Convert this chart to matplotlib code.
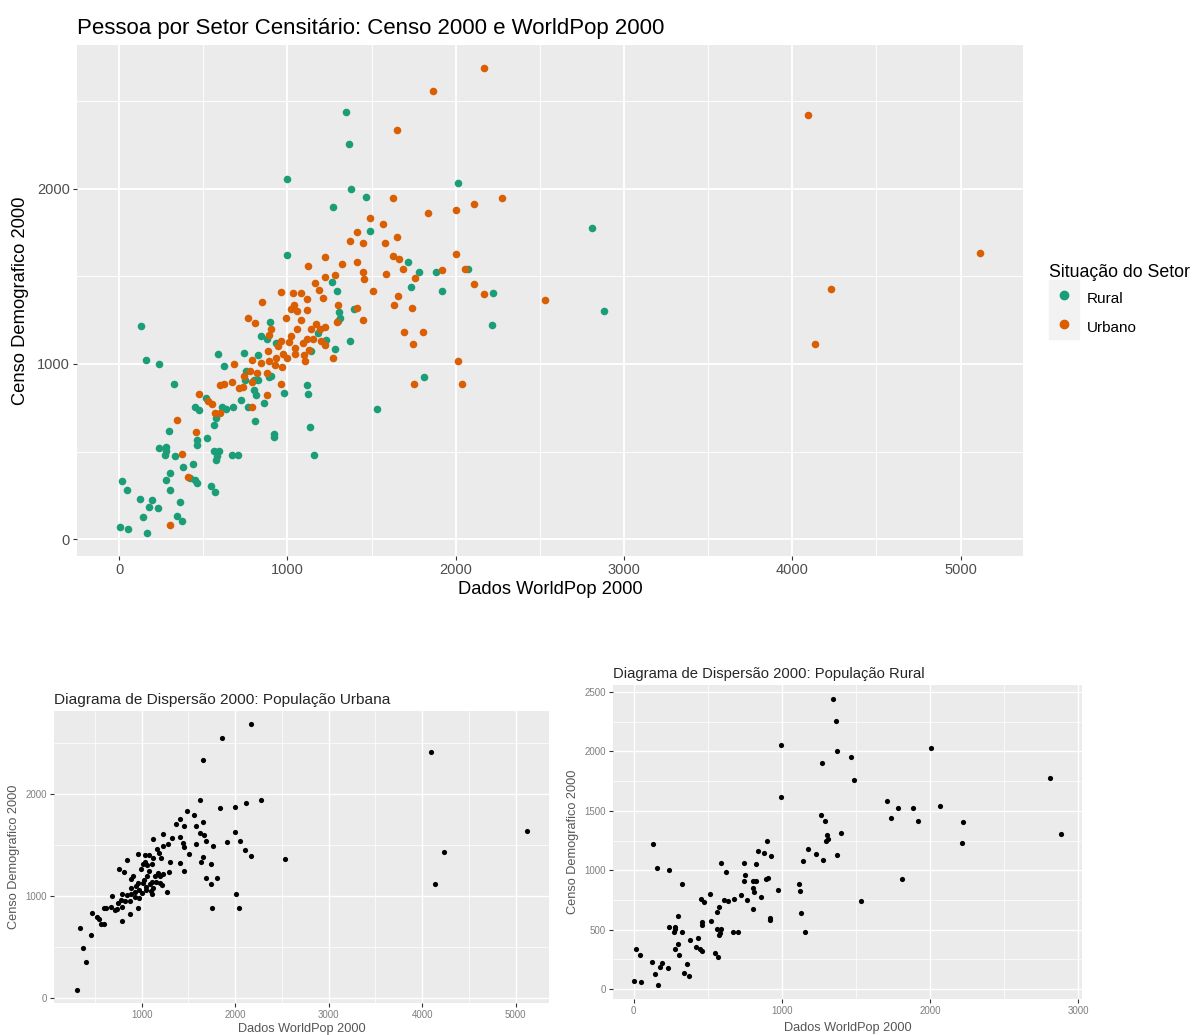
import numpy as np
import matplotlib
matplotlib.use("Agg")
import matplotlib.pyplot as plt
from matplotlib.ticker import MultipleLocator
from matplotlib.lines import Line2D

plt.rcParams["font.family"] = ["Liberation Sans", "DejaVu Sans"]

# setores rurais: (WorldPop 2000, Censo 2000)
rural_x = [1346, 1365, 997, 1376, 1469, 1270, 2011, 1490, 2812, 997,
           1714, 1736, 1782, 1883, 1921, 2071, 2221, 2215, 2883, 1264,
           1292, 1305, 1311, 1300, 1398, 1371, 1180, 1229, 1281, 1142,
           1812, 1534, 1114, 1125, 1131, 1158, 131, 161, 237, 324,
           16, 46, 5, 52, 125, 142, 163, 180, 193, 232,
           237, 281, 281, 275, 297, 300, 281, 305, 330, 341,
           360, 371, 379, 422, 436, 450, 463, 452, 474, 463,
           463, 518, 520, 548, 567, 561, 578, 564, 591, 575,
           583, 589, 624, 610, 635, 668, 706, 678, 725, 744,
           755, 747, 766, 804, 804, 812, 809, 823, 826, 842,
           877, 861, 891, 905, 899, 929, 918, 978, 922]
rural_y = [2439, 2255, 2056, 2000, 1952, 1899, 2031, 1762, 1779, 1620,
           1580, 1438, 1527, 1527, 1415, 1541, 1407, 1225, 1303, 1466,
           1415, 1298, 1264, 1245, 1312, 1130, 1178, 1138, 1088, 1074,
           926, 741, 881, 828, 641, 481, 1217, 1021, 1001, 884,
           333, 283, 70, 59, 229, 126, 36, 182, 221, 179,
           520, 523, 501, 481, 618, 378, 336, 283, 476, 131,
           210, 106, 411, 350, 431, 338, 319, 755, 736, 565,
           540, 803, 576, 305, 271, 649, 691, 501, 501, 453,
           473, 1057, 987, 752, 741, 481, 481, 755, 792, 1063,
           962, 909, 752, 909, 853, 820, 677, 1049, 906, 1161,
           1141, 775, 926, 931, 1242, 1122, 599, 836, 585]

# setores urbanos
urban_x = [2170, 1862, 1652, 4095, 1628, 2273, 1834, 2000, 2111, 1490,
           1565, 1415, 1652, 1451, 1372, 1577, 2000, 5115, 1628, 1225,
           1411, 1664, 1684, 1917, 2055, 1123, 1324, 1585, 1447, 1759,
           1455, 1281, 1225, 1166, 2107, 4229, 2170, 2530, 1506, 1300,
           1632, 1411, 1656, 1739, 1292, 1451, 1692, 1806, 1747, 4134,
           1751, 2012, 2040, 1273, 846, 964, 1032, 1083, 1040, 1119,
           1020, 1059, 1115, 1209, 1190, 763, 810, 905, 889, 992,
           1059, 1079, 964, 1142, 1170, 1194, 1225, 1115, 1154, 1198,
           1221, 1095, 1043, 1126, 1099, 1043, 972, 1000, 889, 933,
           842, 791, 684, 775, 743, 818, 881, 925, 968, 1107,
           668, 735, 711, 787, 877, 960, 601, 621, 474, 549,
           569, 601, 791, 526, 344, 458, 372, 407, 304, 1012,
           945, 1024, 885]
urban_y = [2689, 2557, 2334, 2420, 1948, 1948, 1862, 1879, 1911, 1836,
           1800, 1754, 1725, 1689, 1705, 1689, 1626, 1636, 1616, 1613,
           1584, 1600, 1544, 1534, 1541, 1561, 1570, 1515, 1525, 1492,
           1485, 1508, 1495, 1462, 1456, 1430, 1397, 1367, 1416, 1334,
           1338, 1321, 1387, 1318, 1239, 1249, 1180, 1180, 1115, 1115,
           885, 1016, 885, 1036, 1354, 1410, 1403, 1403, 1338, 1370,
           1315, 1305, 1311, 1377, 1420, 1262, 1233, 1200, 1167, 1262,
           1200, 1250, 1131, 1200, 1230, 1200, 1213, 1141, 1141, 1131,
           1108, 1118, 1092, 1079, 1052, 1059, 1059, 1033, 1016, 1036,
           1007, 1020, 1000, 961, 934, 951, 948, 993, 984, 1016,
           895, 869, 862, 895, 823, 885, 879, 885, 830, 774,
           721, 721, 754, 790, 682, 613, 485, 354, 79, 1125,
           1102, 1157, 1075]

groups = ["Rural", "Urbano"]
colors = ["#1B9E77", "#D95F02"]


def expand(vals, mult=0.05):
    lo, hi = min(vals), max(vals)
    pad = (hi - lo) * mult
    return lo - pad, hi + pad


def gg_style(ax, xstep, ystep, tick_size, tick_color="#4D4D4D", major_lw=1.3):
    ax.set_facecolor("#EBEBEB")
    for s in ax.spines.values():
        s.set_visible(False)
    ax.xaxis.set_major_locator(MultipleLocator(xstep))
    ax.xaxis.set_minor_locator(MultipleLocator(xstep / 2))
    ax.yaxis.set_major_locator(MultipleLocator(ystep))
    ax.yaxis.set_minor_locator(MultipleLocator(ystep / 2))
    ax.grid(which="major", color="white", linewidth=major_lw)
    ax.grid(which="minor", color="white", linewidth=major_lw / 2)
    ax.set_axisbelow(True)
    ax.tick_params(which="major", length=3, color="#333333", labelcolor=tick_color,
                   labelsize=tick_size, pad=2)
    ax.tick_params(which="minor", length=0)


fig = plt.figure(figsize=(11.95, 10.35), dpi=100)

# grafico principal
ax = fig.add_axes([77 / 1195, 1 - 556 / 1035, 946 / 1195, 511 / 1035])
gg_style(ax, 1000, 1000, 10.5)
ax.scatter(rural_x, rural_y, s=30, color=colors[0], linewidths=0, zorder=3)
ax.scatter(urban_x, urban_y, s=30, color=colors[1], linewidths=0, zorder=3)
ax.set_xlim(*expand(rural_x + urban_x))
ax.set_ylim(*expand(rural_y + urban_y))
ax.set_title("Pessoa por Setor Censitário: Censo 2000 e WorldPop 2000",
             loc="left", fontsize=16, pad=8, color="black")
ax.set_xlabel("Dados WorldPop 2000", fontsize=13.2, labelpad=3)
ax.set_ylabel("Censo Demografico 2000", fontsize=13.2, labelpad=6)

handles = [(Line2D([], [], marker="s", ms=21.5, color="#F2F2F2", linestyle="none"),
            Line2D([], [], marker="o", ms=6, color=c, linestyle="none")) for c in colors]
leg = ax.legend(handles, groups, title="Situação do Setor", loc="upper left",
                bbox_to_anchor=(1043 / 1195, 1 - 258 / 1035), bbox_transform=fig.transFigure,
                frameon=False, fontsize=11, title_fontsize=12.8, handlelength=1.9,
                handleheight=1.9, labelspacing=0.4, handletextpad=0.55,
                borderaxespad=0, alignment="left")

# dispersao urbana
axu = fig.add_axes([54 / 1195, 1 - 1003 / 1035, 495 / 1195, 292 / 1035])
gg_style(axu, 1000, 1000, 7, tick_color="#7F7F7F", major_lw=1.0)
axu.scatter(urban_x, urban_y, s=14, color="black", linewidths=0, zorder=3)
axu.set_xlim(*expand(urban_x))
axu.set_ylim(*expand(urban_y))
axu.set_title("Diagrama de Dispersão 2000: População Urbana", loc="left",
              fontsize=11.1, pad=5, color="#262626")
axu.set_xlabel("Dados WorldPop 2000", fontsize=9.2, color="#555555", labelpad=2)
axu.set_ylabel("Censo Demografico 2000", fontsize=9.2, color="#555555", labelpad=4)

# dispersao rural
axr = fig.add_axes([613 / 1195, 1 - 999 / 1035, 469 / 1195, 314 / 1035])
gg_style(axr, 1000, 500, 7, tick_color="#7F7F7F", major_lw=1.0)
axr.scatter(rural_x, rural_y, s=14, color="black", linewidths=0, zorder=3)
axr.set_xlim(*expand(rural_x))
axr.set_ylim(*expand(rural_y))
axr.set_title("Diagrama de Dispersão 2000: População Rural", loc="left",
              fontsize=10.6, pad=5, color="#262626")
axr.set_xlabel("Dados WorldPop 2000", fontsize=9.2, color="#555555", labelpad=4)
axr.set_ylabel("Censo Demografico 2000", fontsize=9.2, color="#555555", labelpad=4)

fig.savefig("out.png", dpi=100)
